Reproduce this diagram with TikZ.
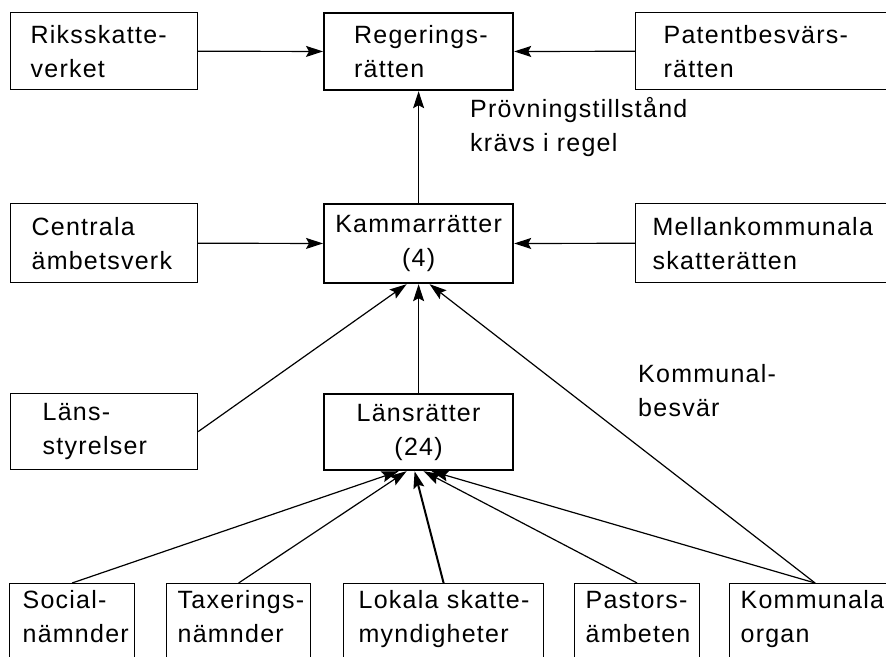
\documentclass[tikz,border=0pt]{standalone}
\usepackage{fontspec}
\setmainfont{Liberation Sans}[LetterSpace=5]
\usetikzlibrary{arrows.meta}
\hyphenpenalty=10000
\exhyphenpenalty=10000
\hbadness=10000
\hfuzz=100pt

\tikzset{
  box/.style 2 args={draw, line width=1.2pt, anchor=north west, align=left,
    inner sep=0pt, minimum width=#1, text width=#2},
  court/.style={box={189pt}{189pt}, line width=2.2pt, align=center},
  lower/.style={minimum height=82pt, execute at end node={\rule[-16pt]{0pt}{16pt}}},
  link/.style={->, line width=1.2pt},
  heavy/.style={->, line width=2pt},
}

\begin{document}
\begin{tikzpicture}[x=1pt, y=-1pt, >={Stealth[length=17pt,width=11pt,inset=3pt]},
    every node/.style={font=\fontsize{25}{34}\selectfont}]
    \useasboundingbox (0,0) rectangle (886,656);
    % top row
    \node[box={187pt}{147pt}, minimum height=77pt] (riks) at (10,12) {Riksskatte-\\verket};
    \node[court, minimum height=77pt, align=left, text width=129pt] (reg) at (323,12) {Regerings-\\rätten};
    \node[box={270pt}{214pt}, minimum height=77pt] (patent) at (635,12) {Patentbesvärs-\\rätten};
    % middle row
    \node[box={187pt}{145pt}, minimum height=79pt] (cent) at (10,203) {Centrala\\ämbetsverk};
    \node[court, minimum height=79pt] (kam) at (323,203) {Kammarrätter\\(4)};
    \node[box={270pt}{236pt}, minimum height=79pt] (mellan) at (635,203) {Mellankommunala\\skatterätten};
    % third row
    \node[box={187pt}{123pt}, minimum height=76pt] (lstyr) at (10,393) {Läns-\\styrelser};
    \node[court, minimum height=76pt] (lratt) at (323,393) {Länsrätter\\(24)};
    % bottom row
    \node[box={125pt}{99pt}, lower] (soc) at (9,583) {Social-\\nämnder};
    \node[box={144pt}{122pt}, lower] (tax) at (166,583) {Taxerings-\\nämnder};
    \node[box={200pt}{170pt}, lower] (lok) at (343,583) {Lokala~skatte-\\myndigheter};
    \node[box={125pt}{103pt}, lower] (past) at (574,583) {Pastors-\\ämbeten};
    \node[box={171pt}{149pt}, lower] (komm) at (729,583) {Kommunala\\organ};
    % labels
    \node[anchor=north west, align=left, inner sep=0pt] (prov) at (470,97) {Prövningstillstånd\\krävs i regel};
    \node[anchor=north west, align=left, inner sep=0pt] (kbes) at (638,364) {Kommunal-\\besvär};

    \draw[link] (riks) -- (reg);
    \draw[link] (patent) -- (reg);
    \draw[link] (kam) -- (reg);
    \draw[link] (cent) -- (kam);
    \draw[link] (mellan) -- (kam);
    \draw[link] (lstyr.east) -- ([xshift=-12pt]kam.south);
    \draw[link] (lratt) -- (kam);
    \draw[link] (komm.north) -- ([xshift=11pt]kam.south);
    \draw[link] (soc.north) -- ([xshift=-20pt]lratt.south);
    \draw[link] (tax.north) -- ([xshift=-12pt]lratt.south);
    \draw[heavy] (lok.north) -- ([xshift=-4pt]lratt.south);
    \draw[link] (past.north) -- ([xshift=5pt]lratt.south);
    \draw[link] (komm.north) -- ([xshift=13pt]lratt.south);
\end{tikzpicture}
\end{document}
